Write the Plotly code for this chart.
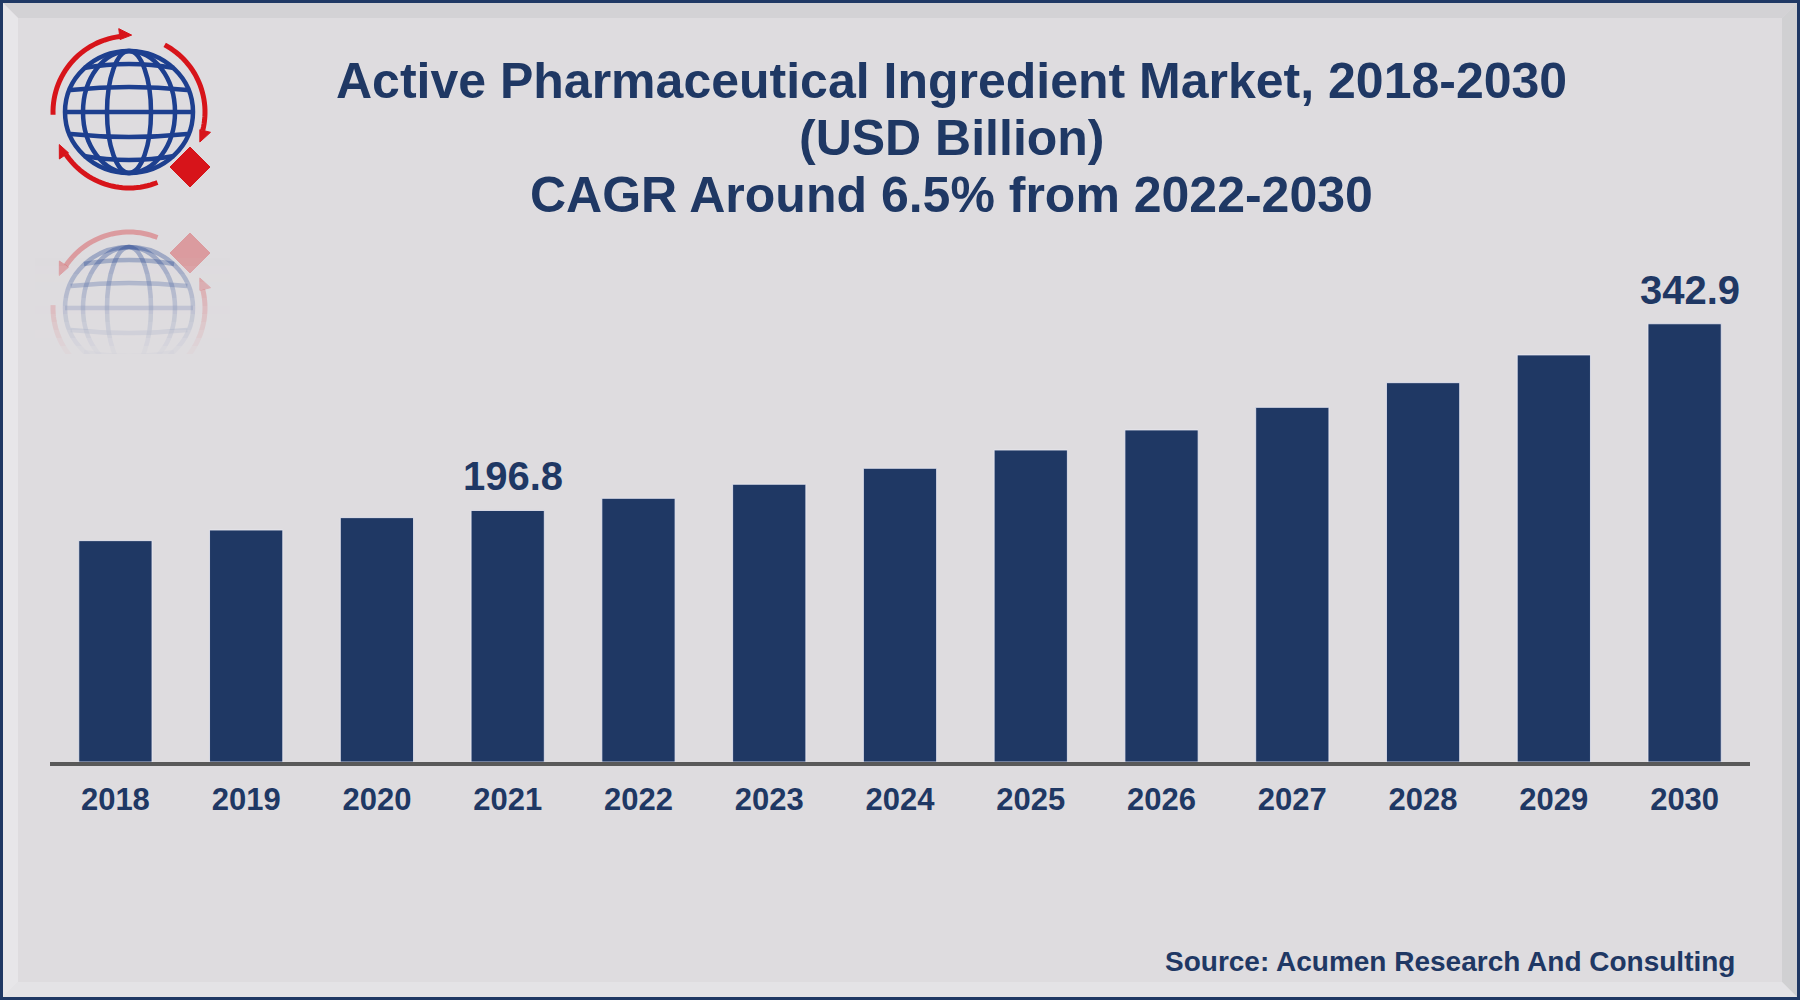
import numpy as np
import plotly.graph_objects as go

# Data
years = ["2018", "2019", "2020", "2021", "2022", "2023", "2024",
         "2025", "2026", "2027", "2028", "2029", "2030"]
market_usd_bn = [173.2, 181.5, 191.2, 196.8, 206.3, 217.3, 229.8,
                 244.1, 259.8, 277.5, 296.8, 318.5, 342.9]
labelled_years = ["2021", "2030"]

title_lines = [
    "Active Pharmaceutical Ingredient Market, 2018-2030",
    "(USD Billion)",
    "CAGR Around 6.5% from 2022-2030",
]
source_text = "Source: Acumen Research And Consulting"

W, H = 1800, 1000
NAVY = "#1F3864"
GLOBE = "#1D3F8F"
RED = "#D7141A"
BG = "#DEDCDF"
FONT = "Liberation Sans"


def fx(x):
    return x / W


def fy(y):
    return 1 - y / H


def path(points, close=True):
    s = "M " + " L ".join(f"{fx(x)},{fy(y)}" for x, y in points)
    return s + (" Z" if close else "")


# --- logo (globe with arrows), drawn in pixel space ---
def logo_shapes(mirror_y=None, opacity=1.0):
    def my(y):
        return 2 * mirror_y - y if mirror_y is not None else y

    out = []
    cx, cy = 129, 112
    # globe outline and meridians
    for rx, ry in [(64, 61), (46, 61), (22, 61)]:
        out.append(dict(type="circle", xref="paper", yref="paper",
                        x0=fx(cx - rx), x1=fx(cx + rx),
                        y0=fy(my(cy - ry)), y1=fy(my(cy + ry)),
                        line=dict(color=GLOBE, width=4.5), opacity=opacity))
    # equator and latitude curves
    for d, bow in [(0, 0), (-22, -6), (22, 6), (-44, -8), (44, 8)]:
        half = np.sqrt(64 ** 2 - d ** 2) * (1 if d == 0 else 0.97)
        p0 = (cx - half, my(cy + d))
        p1 = (cx + half, my(cy + d))
        c = (cx, my(cy + d + bow))
        out.append(dict(type="path", xref="paper", yref="paper",
                        path=f"M {fx(p0[0])},{fy(p0[1])} Q {fx(c[0])},{fy(c[1])} {fx(p1[0])},{fy(p1[1])}",
                        line=dict(color=GLOBE, width=4.5), opacity=opacity))
    # red arrows around the globe
    R = 76
    for a0, a1 in [(182, 97), (62, -14), (-68, -146)]:
        th = np.radians(np.linspace(a0, a1, 30))
        pts = [(cx + R * np.cos(t), my(cy - R * np.sin(t))) for t in th]
        out.append(dict(type="path", xref="paper", yref="paper",
                        path=path(pts, close=False),
                        line=dict(color=RED, width=5), opacity=opacity))
        t = th[-1]
        ex, ey = cx + R * np.cos(t), cy - R * np.sin(t)
        tx, ty = np.sin(t), np.cos(t)  # clockwise tangent (screen)
        nx, ny = np.cos(t), -np.sin(t)  # outward normal (screen)
        tip = (ex + 12 * tx, ey + 12 * ty)
        b1 = (ex + 8 * nx, ey + 8 * ny)
        b2 = (ex - 3 * nx, ey - 3 * ny)
        tri = [(p[0], my(p[1])) for p in (tip, b1, b2)]
        out.append(dict(type="path", xref="paper", yref="paper",
                        path=path(tri), fillcolor=RED,
                        line=dict(color=RED, width=1), opacity=opacity))
    # red diamond
    dx, dy, r = 190, 167, 20
    dia = [(dx, my(dy - r)), (dx + r, my(dy)), (dx, my(dy + r)), (dx - r, my(dy))]
    out.append(dict(type="path", xref="paper", yref="paper", path=path(dia),
                    fillcolor=RED, line=dict(color=RED, width=1), opacity=opacity))
    return out


shapes = []
# bevelled frame
shapes += [
    dict(type="path", xref="paper", yref="paper", layer="below",
         path=path([(3, 3), (1797, 3), (1782, 18), (18, 18)]),
         fillcolor="#D3D2D5", line=dict(width=0)),
    dict(type="path", xref="paper", yref="paper", layer="below",
         path=path([(1797, 3), (1797, 997), (1782, 982), (1782, 18)]),
         fillcolor="#D0D0D2", line=dict(width=0)),
    dict(type="path", xref="paper", yref="paper", layer="below",
         path=path([(3, 997), (1797, 997), (1782, 982), (18, 982)]),
         fillcolor="#E4E3E6", line=dict(width=0)),
    dict(type="path", xref="paper", yref="paper", layer="below",
         path=path([(3, 3), (3, 997), (18, 982), (18, 18)]),
         fillcolor="#E7E6E9", line=dict(width=0)),
    dict(type="rect", xref="paper", yref="paper", x0=0, x1=1, y0=0, y1=1,
         line=dict(color=NAVY, width=6)),
]
shapes += logo_shapes()
shapes += logo_shapes(mirror_y=210, opacity=0.32)
# fade the reflection out
for i in range(14):
    y0 = 258 + i * 8
    y1 = y0 + 8 if i < 13 else 400
    shapes.append(dict(type="rect", xref="paper", yref="paper",
                       x0=fx(35), x1=fx(230), y0=fy(y0), y1=fy(y1),
                       fillcolor=BG, line=dict(width=0),
                       opacity=min(1.0, 0.05 + i * 0.08)))

fig = go.Figure()
fig.add_trace(go.Bar(
    x=years,
    y=market_usd_bn,
    marker=dict(color=NAVY, line=dict(color="rgba(235,235,245,0.8)", width=1)),
    hoverinfo="x+y",
))

annotations = []
for i, (yr, val) in enumerate(zip(years, market_usd_bn)):
    if yr in labelled_years:
        annotations.append(dict(
            x=i, y=val, xref="x", yref="y", text=f"<b>{val:.1f}</b>",
            showarrow=False, yanchor="bottom", yshift=10, xshift=5,
            font=dict(family=FONT, size=40, color=NAVY)))

for i, line in enumerate(title_lines):
    annotations.append(dict(
        x=fx(952), y=fy(80.5 + 57.4 * i), xref="paper", yref="paper",
        text=f"<b>{line}</b>", showarrow=False, xanchor="center", yanchor="middle",
        font=dict(family=FONT, size=50, color=NAVY)))

annotations.append(dict(
    x=fx(1737), y=fy(961), xref="paper", yref="paper",
    text=f"<b>{source_text}</b>", showarrow=False, xanchor="right", yanchor="middle",
    font=dict(family=FONT, size=28, color=NAVY)))

fig.update_layout(
    width=W, height=H,
    margin=dict(l=0, r=0, t=0, b=0),
    paper_bgcolor=BG,
    plot_bgcolor=BG,
    showlegend=False,
    bargap=0.44,
    shapes=shapes,
    annotations=annotations,
    xaxis=dict(
        domain=[fx(50), fx(1750)],
        type="category",
        range=[-0.5, 12.5],
        showline=True, linecolor="#595959", linewidth=4,
        ticks="outside", ticklen=7, tickcolor="rgba(0,0,0,0)",
        tickfont=dict(family=FONT, size=31, color=NAVY, weight="bold"),
        showgrid=False, automargin=False, fixedrange=True,
    ),
    yaxis=dict(
        domain=[fy(762), fy(280)],
        range=[0, (762 - 280) / 1.278],
        visible=False, showgrid=False, zeroline=False, fixedrange=True,
    ),
)

fig.write_html("out.html", config={"displayModeBar": False},
               post_script="document.body.style.margin='0';")
